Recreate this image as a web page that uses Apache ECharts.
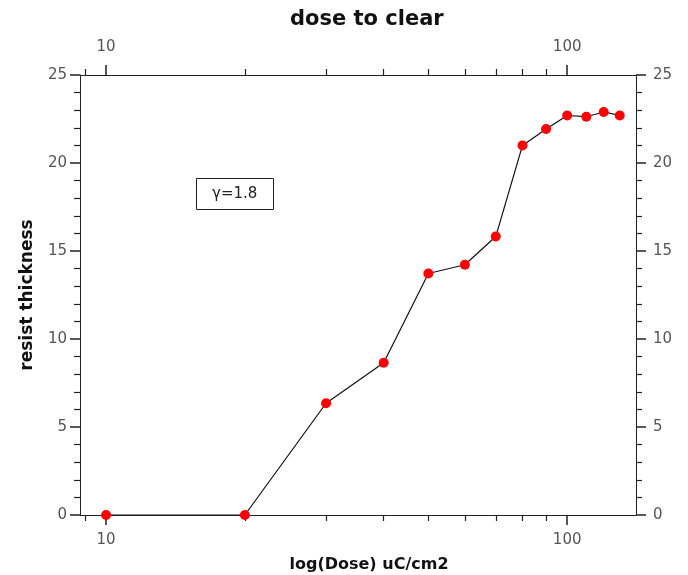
<!DOCTYPE html>
<html><head><meta charset="utf-8">
<script src="https://cdn.jsdelivr.net/npm/echarts@6/dist/echarts.min.js"></script>
<style>html,body{margin:0;padding:0;background:#fff}#c{width:688px;height:575px}</style>
</head><body><div id="c"></div>
<script>
const doses = [10, 20, 30, 40, 50, 60, 70, 80, 90, 100, 110, 120, 130];
const thickness = [0, 0, 6.35, 8.65, 13.72, 14.22, 15.82, 21.0, 21.93, 22.7, 22.63, 22.9, 22.7];
const majorXTicks = [10, 100];
const minorXTicks = [9, 20, 30, 40, 50, 60, 70, 80, 90];
const titleText = 'dose to clear';
const xName = 'log(Dose) uC/cm2';
const yName = 'resist thickness';
const gammaText = 'γ=1.8';

const FONT = 'DejaVu Sans';
const lineCol = '#222';
const labCol = '#555';
const xMin = 8.78, xMax = 141;

function xAxisCfg(pos, major, withName) {
  return {
    type: 'log', logBase: 10, min: xMin, max: xMax, gridIndex: 0, position: pos,
    name: withName ? xName : '', nameLocation: 'middle', nameGap: 42,
    nameTextStyle: { fontFamily: FONT, fontWeight: 'bold', fontSize: 16, color: '#111', padding: [0, 0, 0, 22] },
    axisLine: { show: major, lineStyle: { color: lineCol, width: 1 } },
    axisTick: { show: true, length: major ? 10 : 6, customValues: major ? majorXTicks : minorXTicks,
      lineStyle: { color: lineCol, width: major ? 1.5 : 1.2 } },
    axisLabel: { show: major, customValues: majorXTicks, margin: pos === 'top' ? 20 : 18,
      fontFamily: FONT, fontSize: 15, color: labCol },
    splitLine: { show: false }, minorTick: { show: false }
  };
}
function yAxisCfg(pos, withName) {
  return {
    type: 'value', min: 0, max: 25, interval: 5, position: pos,
    name: withName ? yName : '', nameLocation: 'middle', nameGap: 44,
    nameTextStyle: { fontFamily: FONT, fontWeight: 'bold', fontSize: 17, color: '#111' },
    axisLine: { show: true, lineStyle: { color: lineCol, width: 1 } },
    axisTick: { show: true, length: 10, lineStyle: { color: lineCol, width: 1.5 } },
    minorTick: { show: true, splitNumber: 5, length: 6, lineStyle: { color: lineCol, width: 1.2 } },
    axisLabel: { margin: pos === 'right' ? 17 : 13, fontFamily: FONT, fontSize: 15, color: labCol },
    splitLine: { show: false }, minorSplitLine: { show: false }
  };
}

const chart = echarts.init(document.getElementById('c'), null, { renderer: 'canvas' });
chart.setOption({
  animation: false,
  backgroundColor: '#fff',
  title: [
    { text: titleText, left: 285, top: 4,
      textStyle: { fontFamily: FONT, fontWeight: 'bold', fontSize: 21, color: '#111' } },
    { text: gammaText, left: 196, top: 178, borderColor: '#222', borderWidth: 1,
      padding: [9, 16, 8, 16],
      textStyle: { fontFamily: FONT, fontWeight: 'normal', fontSize: 15, color: '#222' } }
  ],
  grid: { left: 80, right: 52, top: 75, bottom: 60, containLabel: false, outerBoundsMode: 'none' },
  xAxis: [
    xAxisCfg('bottom', true, true),
    xAxisCfg('bottom', false, false),
    xAxisCfg('top', true, false),
    xAxisCfg('top', false, false)
  ],
  yAxis: [ yAxisCfg('left', true), yAxisCfg('right', false) ],
  series: [{
    type: 'line', xAxisIndex: 0, yAxisIndex: 0,
    data: doses.map((d, i) => [d, thickness[i]]),
    lineStyle: { color: '#111', width: 1.2 },
    symbol: 'circle', symbolSize: 10,
    itemStyle: { color: '#ff0000' },
    z: 5
  }]
});
</script></body></html>
